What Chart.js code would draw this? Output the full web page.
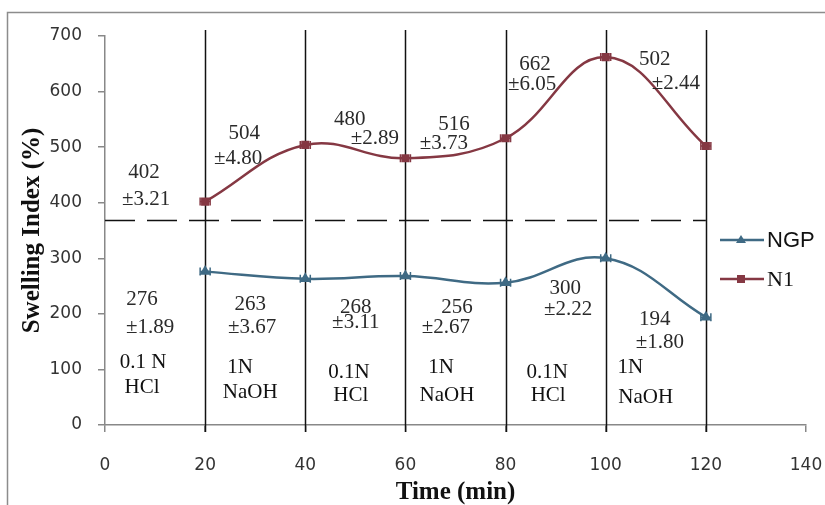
<!DOCTYPE html>
<html>
<head>
<meta charset="utf-8">
<script src="https://cdn.jsdelivr.net/npm/chart.js@4/dist/chart.umd.min.js"></script>
<style>
  html, body { margin: 0; padding: 0; background: #fff; }
  #wrap { width: 825px; height: 505px; }
</style>
</head>
<body>
<div id="wrap"><canvas id="swelling"></canvas></div>
<script>
// time points (min) and swelling index (%)
const times = [20, 40, 60, 80, 100, 120];
const ngp = [276, 263, 268, 256, 300, 194];
const n1 = [402, 504, 480, 516, 662, 502];
const ngpSd = [1.89, 3.67, 3.11, 2.67, 2.22, 1.80];
const n1Sd = [3.21, 4.80, 2.89, 3.73, 6.05, 2.44];
const xErr = 1;          // horizontal error bar, min
const splitLevel = 369;  // dashed separator between the two series
const media = [['0.1 N', 'HCl'], ['1N', 'NaOH'], ['0.1N', 'HCl'], ['1N', 'NaOH'], ['0.1N', 'HCl'], ['1N', 'NaOH']];

// where the value labels sit (data units: [time, swelling])
const n1ValPos = [[7.8, 455], [27.8, 524], [48.9, 549], [69.7, 540], [85.9, 648], [109.8, 657]];
const n1SdPos = [[8.2, 405], [26.6, 479], [53.9, 516], [67.7, 507], [85.3, 612], [114.0, 615]];
const ngpValPos = [[7.4, 225], [29.0, 216], [50.1, 212], [70.3, 212], [91.9, 245], [109.8, 189]];
const ngpSdPos = [[9.0, 176], [29.4, 175], [50.1, 184], [68.1, 175], [92.5, 207], [110.8, 149]];
const mediaPos = [[[7.6, 112], [7.4, 67]], [[27, 103], [29, 58]], [[48.7, 95], [49.1, 54]],
                  [[67.1, 103], [68.3, 54]], [[88.3, 95], [88.5, 54]], [[104.9, 103], [108.0, 50]]];

const NGP_COL = '#3f6a84';
const N1_COL = '#853843';
const SERIF = "'Liberation Serif', 'Times New Roman', serif";

const extras = {
  id: 'extras',
  beforeDraw(chart) {
    const ctx = chart.ctx;
    ctx.save();
    ctx.strokeStyle = '#8c8c8c';
    ctx.lineWidth = 1.5;
    ctx.strokeRect(7.5, 12.5, 900, 600);
    ctx.restore();
  },
  beforeDatasetsDraw(chart) {
    const ctx = chart.ctx;
    const xs = chart.scales.x, ys = chart.scales.y;
    ctx.save();
    // vertical medium change lines
    ctx.strokeStyle = '#111';
    ctx.lineWidth = 1.5;
    times.forEach(t => {
      const px = Math.round(xs.getPixelForValue(t)) + 0.5;
      ctx.beginPath();
      ctx.moveTo(px, ys.getPixelForValue(700) - 6);
      ctx.lineTo(px, ys.getPixelForValue(0) + 7);
      ctx.stroke();
    });
    // dashed separator
    ctx.setLineDash([30, 12]);
    ctx.beginPath();
    const py = Math.round(ys.getPixelForValue(splitLevel)) + 0.5;
    ctx.moveTo(xs.getPixelForValue(0), py);
    ctx.lineTo(xs.getPixelForValue(120), py);
    ctx.stroke();
    ctx.restore();
  },
  afterDatasetsDraw(chart) {
    const ctx = chart.ctx;
    const xs = chart.scales.x, ys = chart.scales.y;
    ctx.save();
    // horizontal error bars
    [[ngp, NGP_COL], [n1, N1_COL]].forEach(([vals, col]) => {
      ctx.strokeStyle = col;
      ctx.lineWidth = 1.5;
      vals.forEach((v, i) => {
        const y = ys.getPixelForValue(v);
        const x0 = xs.getPixelForValue(times[i] - xErr);
        const x1 = xs.getPixelForValue(times[i] + xErr);
        ctx.beginPath();
        ctx.moveTo(x0, y); ctx.lineTo(x1, y);
        ctx.moveTo(x0, y - 4); ctx.lineTo(x0, y + 4);
        ctx.moveTo(x1, y - 4); ctx.lineTo(x1, y + 4);
        ctx.stroke();
      });
    });
    // value labels
    ctx.fillStyle = '#2a2a2a';
    ctx.font = '21px ' + SERIF;
    ctx.textAlign = 'center';
    ctx.textBaseline = 'middle';
    const put = (txt, p) => ctx.fillText(txt, xs.getPixelForValue(p[0]), ys.getPixelForValue(p[1]));
    n1.forEach((v, i) => { put(String(v), n1ValPos[i]); put('\u00b1' + n1Sd[i].toFixed(2), n1SdPos[i]); });
    ngp.forEach((v, i) => { put(String(v), ngpValPos[i]); put('\u00b1' + ngpSd[i].toFixed(2), ngpSdPos[i]); });
    ctx.fillStyle = '#111';
    media.forEach((m, i) => { put(m[0], mediaPos[i][0]); put(m[1], mediaPos[i][1]); });
    // legend
    const items = [['NGP', NGP_COL, 'triangle', "22px 'Liberation Sans', Arial, sans-serif", 240],
                   ['N1', N1_COL, 'rect', '22px ' + SERIF, 279]];
    items.forEach(([name, col, shape, font, y]) => {
      ctx.strokeStyle = col;
      ctx.lineWidth = 2.5;
      ctx.beginPath();
      ctx.moveTo(720, y); ctx.lineTo(764, y);
      ctx.stroke();
      ctx.fillStyle = col;
      ctx.beginPath();
      if (shape === 'rect') {
        ctx.rect(737, y - 4, 8, 8);
      } else {
        ctx.moveTo(741, y - 5); ctx.lineTo(746, y + 3); ctx.lineTo(736, y + 3); ctx.closePath();
      }
      ctx.fill();
      ctx.fillStyle = '#111';
      ctx.font = font;
      ctx.textAlign = 'left';
      ctx.fillText(name, 767, y + 1);
    });
    ctx.restore();
  }
};

const tickFont = { family: "'DejaVu Sans', Verdana, sans-serif", size: 17 };
const titleFont = { family: SERIF, size: 25, weight: 'bold', lineHeight: 1 };

const config = {
  type: 'line',
  data: {
    datasets: [{
      label: 'NGP',
      data: times.map((t, i) => ({ x: t, y: ngp[i] })),
      borderColor: NGP_COL,
      backgroundColor: NGP_COL,
      borderWidth: 2.5,
      pointStyle: 'triangle',
      pointRadius: 4,
      tension: 0.4
    }, {
      label: 'N1',
      data: times.map((t, i) => ({ x: t, y: n1[i] })),
      borderColor: N1_COL,
      backgroundColor: N1_COL,
      borderWidth: 2.5,
      pointStyle: 'rect',
      pointRadius: 4,
      tension: 0.4
    }]
  },
  options: {
    responsive: true,
    maintainAspectRatio: false,
    animation: false,
    plugins: { legend: { display: false }, tooltip: { enabled: false } },
    layout: { padding: { top: 36, left: 8, right: 19, bottom: 0 } },
    scales: {
      x: {
        type: 'linear', min: 0, max: 140,
        ticks: { stepSize: 20, font: tickFont, color: '#333', padding: 23, maxRotation: 0 },
        grid: { drawOnChartArea: false, tickLength: 7, color: '#888', lineWidth: 1.5 },
        border: { color: '#888', width: 1.5 },
        title: { display: true, text: 'Time (min)', font: titleFont, color: '#111', padding: { top: 4, bottom: 0 } },
        afterFit(s) { s.height = 80; s.paddingLeft = 0; s.paddingRight = 0; }
      },
      y: {
        min: 0, max: 700,
        ticks: { stepSize: 100, font: tickFont, color: '#333', padding: 16 },
        grid: { drawOnChartArea: false, tickLength: 7, color: '#888', lineWidth: 1.5 },
        border: { color: '#888', width: 1.5 },
        title: { display: true, text: 'Swelling Index (%)', font: titleFont, color: '#111', padding: { top: 12, bottom: 0 } },
        afterFit(s) { s.width = 97; }
      }
    }
  },
  plugins: [extras]
};

const swellingChart = new Chart(document.getElementById('swelling'), config);
</script>
</body>
</html>
